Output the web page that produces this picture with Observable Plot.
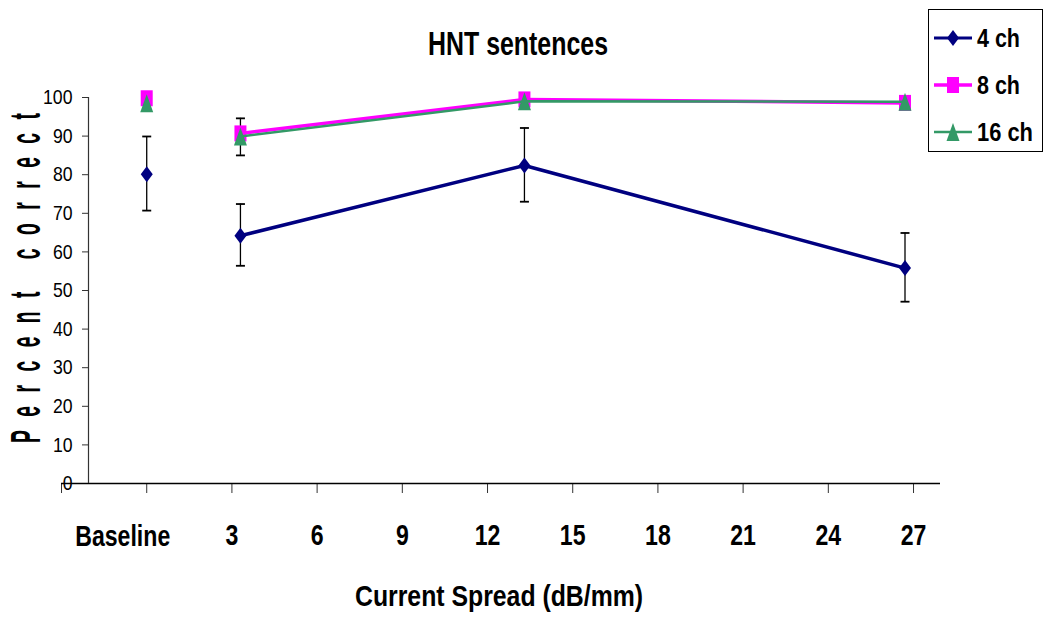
<!DOCTYPE html>
<html>
<head>
<meta charset="utf-8">
<script src="https://cdn.jsdelivr.net/npm/d3@7"></script>
<script src="https://cdn.jsdelivr.net/npm/@observablehq/plot@0.6"></script>
<style>
  html, body { margin: 0; padding: 0; background: #fff; }
  #chart { position: relative; width: 1050px; height: 627px; }
  #chart svg.overlay { position: absolute; left: 0; top: 0; pointer-events: none; }
</style>
</head>
<body>
<div id="chart"></div>
<script>
// ---- data ----
const spread = [0, 3.3, 13.3, 26.7];           // 0 = "Baseline"
const ch4    = [80.1, 64.2, 82.4, 55.8];
const ch4Lo  = [70.7, 56.4, 73.0, 47.1];
const ch4Hi  = [89.9, 72.4, 92.1, 64.9];
const ch8    = [99.8, 90.7, 99.5, 98.6];
const ch16   = [98.5, 89.9, 99.0, 98.9];
const ch16Lo = [null, 85.0, null, null];
const ch16Hi = [null, 94.6, null, null];
const xTicks = [-3, 0, 3, 6, 9, 12, 15, 18, 21, 24, 27];
const xTickLabels = ["", "", "3", "6", "9", "12", "15", "18", "21", "24", "27"];
const baselineLabel = "Baseline";
const yTicks = [0, 10, 20, 30, 40, 50, 60, 70, 80, 90, 100];
const seriesNames = ["4 ch", "8 ch", "16 ch"];
const titleText = "HNT sentences";
const xTitle = "Current Spread (dB/mm)";
const yTitle = "Percent correct";

// ---- styles ----
const NAVY = "#000080", MAGENTA = "#FF00FF", GREEN = "#339966";
const xDomain = [-2.05, 27.95];

const r4 = spread.map((x, i) => ({x, y: ch4[i], lo: ch4Lo[i], hi: ch4Hi[i]}));
const r8 = spread.map((x, i) => ({x, y: ch8[i]}));
const r16 = spread.map((x, i) => ({x, y: ch16[i], lo: ch16Lo[i], hi: ch16Hi[i]}));
const connected = (r) => r.filter(d => d.x !== 0); // Baseline is not joined to the curve

const diamond = {draw(c) { c.moveTo(0, -8); c.lineTo(6, 0); c.lineTo(0, 8); c.lineTo(-6, 0); c.closePath(); }};
const square = {draw(c) { c.rect(-6, -8, 12, 16); }};
const triangle = {draw(c) { c.moveTo(0, -9); c.lineTo(6.5, 9); c.lineTo(-6.5, 9); c.closePath(); }};
const cap = {draw(c) { c.moveTo(-4.5, 0); c.lineTo(4.5, 0); }};

const errRows = [...r4, ...r16].filter(d => d.lo != null);

const font = '"Liberation Sans", Arial, sans-serif';

const plot = Plot.plot({
  width: 1050, height: 627,
  marginLeft: 88, marginRight: 110, marginTop: 97, marginBottom: 144,
  style: {background: "#fff", overflow: "visible", fontFamily: font},
  x: {domain: xDomain},
  y: {domain: [0, 100]},
  marks: [
    Plot.axisY(yTicks, {tickSize: 6, tickPadding: 10, fontSize: 21, fontFamily: font, stroke: "#333", fill: "#000", label: null, tickFormat: d => String(d)}),
    Plot.axisX(xTicks, {tickSize: 10, tickPadding: 30, fontSize: 30, fontWeight: "bold", fontFamily: font, stroke: "#333", fill: "#000", label: null, tickFormat: d => xTickLabels[xTicks.indexOf(d)]}),
    Plot.text([0], {x: d => d, y: 0, text: () => baselineLabel, dx: -24, dy: 53, fontSize: 30, fontWeight: "bold", fontFamily: font, fill: "#000"}),
    Plot.ruleY([0], {x1: xTicks[0], x2: xDomain[1], stroke: "#000", strokeWidth: 1.5}),
    Plot.ruleX([xDomain[0]], {y1: 0, y2: 100, stroke: "#333", strokeWidth: 1.2}),
    // error bars
    Plot.ruleX(errRows, {x: "x", y1: "lo", y2: "hi", stroke: "#000", strokeWidth: 1.3}),
    Plot.dot(errRows, {x: "x", y: "lo", symbol: cap, stroke: "#000", strokeWidth: 1.8, fill: "none"}),
    Plot.dot(errRows, {x: "x", y: "hi", symbol: cap, stroke: "#000", strokeWidth: 1.8, fill: "none"}),
    // 4 ch
    Plot.line(connected(r4), {x: "x", y: "y", stroke: NAVY, strokeWidth: 3.5}),
    Plot.dot(r4, {x: "x", y: "y", symbol: diamond, fill: NAVY, stroke: "none"}),
    // 8 ch
    Plot.line(connected(r8), {x: "x", y: "y", stroke: MAGENTA, strokeWidth: 3.5}),
    Plot.dot(r8, {x: "x", y: "y", symbol: square, fill: MAGENTA, stroke: "none"}),
    // 16 ch
    Plot.line(connected(r16), {x: "x", y: "y", stroke: GREEN, strokeWidth: 2.5}),
    Plot.dot(r16, {x: "x", y: "y", symbol: triangle, fill: GREEN, stroke: "none"})
  ]
});

const chart = document.getElementById("chart");
chart.appendChild(plot);

// condense tick labels (the reference uses a narrow face)
function condense(sel, k) {
  d3.select(plot).selectAll(sel).each(function() {
    const w = this.getComputedTextLength();
    if (w > 0) { this.setAttribute("textLength", w * k); this.setAttribute("lengthAdjust", "spacingAndGlyphs"); }
  });
}
condense('g[aria-label="x-axis tick label"] text', 0.77);
condense('g[aria-label="text"] text', 0.77);
condense('g[aria-label="y-axis tick label"] text', 0.84);

// ---- titles and legend (text overlay) ----
const ov = d3.select(chart).append("svg").attr("class", "overlay").attr("width", 1050).attr("height", 627);

ov.append("text").attr("x", 518).attr("y", 55).attr("text-anchor", "middle")
  .attr("font-size", 34).attr("font-family", font).attr("font-weight", "bold")
  .attr("textLength", 180).attr("lengthAdjust", "spacingAndGlyphs").text(titleText);

ov.append("text").attr("x", 499).attr("y", 606).attr("text-anchor", "middle")
  .attr("font-size", 30).attr("font-family", font).attr("font-weight", "bold")
  .attr("textLength", 288).attr("lengthAdjust", "spacingAndGlyphs").text(xTitle);

ov.append("text").attr("transform", "translate(40,278) rotate(-90) scale(0.46,1)")
  .attr("text-anchor", "middle").attr("font-size", 42).attr("font-family", font).attr("font-weight", "bold")
  .attr("textLength", 330 / 0.46).attr("lengthAdjust", "spacing").text(yTitle);

// legend
const lg = ov.append("g");
lg.append("rect").attr("x", 928.5).attr("y", 9.5).attr("width", 114).attr("height", 142)
  .attr("fill", "#fff").attr("stroke", "#000").attr("stroke-width", 1);
const legendItems = [
  {name: seriesNames[0], color: NAVY, sym: diamond, lw: 3, cy: 38, w: 43},
  {name: seriesNames[1], color: MAGENTA, sym: square, lw: 3.5, cy: 85, w: 43},
  {name: seriesNames[2], color: GREEN, sym: triangle, lw: 2.5, cy: 132, w: 56}
];
for (const it of legendItems) {
  lg.append("line").attr("x1", 934).attr("x2", 972).attr("y1", it.cy).attr("y2", it.cy)
    .attr("stroke", it.color).attr("stroke-width", it.lw);
  const p = d3.path(); it.sym.draw(p);
  lg.append("path").attr("d", p.toString()).attr("transform", `translate(953,${it.cy})`).attr("fill", it.color);
  lg.append("text").attr("x", 977).attr("y", it.cy + 9).attr("font-size", 25)
    .attr("font-family", font).attr("font-weight", "bold")
    .attr("textLength", it.w).attr("lengthAdjust", "spacingAndGlyphs").text(it.name);
}
</script>
</body>
</html>
